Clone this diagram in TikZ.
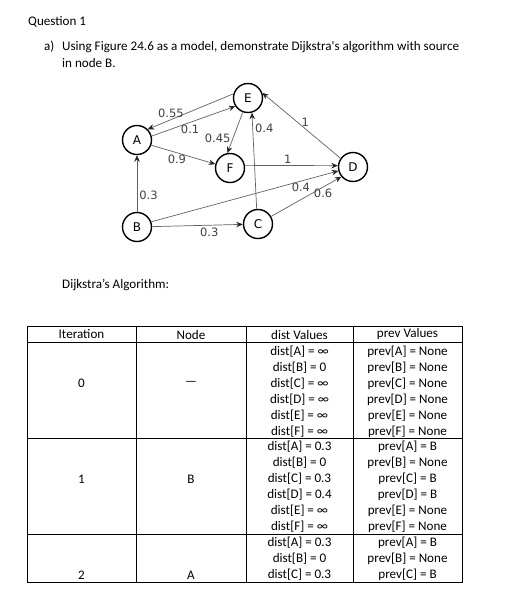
\documentclass[tikz,border=0pt]{standalone}
\usepackage{fontspec}
\setmainfont{Carlito}
\newfontfamily\graphfont{DejaVu Sans}
\usetikzlibrary{arrows.meta}

\begin{document}
\begin{tikzpicture}[
  x=1pt, y=-1pt,
  vertex/.style={
    circle,
    draw=black,
    line width=1.4pt,
    minimum size=29pt,
    inner sep=0pt,
    font=\graphfont\fontsize{12}{12}\selectfont
  },
  edge/.style={draw=black!62,line width=0.7pt,-{Stealth[length=6.5pt,width=5.5pt,black!85]}},
  weight/.style={font=\graphfont\fontsize{11.5}{11.5}\selectfont,text=black!75,inner sep=2pt},
  txt/.style={font=\fontsize{13.1}{15}\selectfont,inner sep=0pt},
  grid/.style={draw=black,line width=0.9pt}
]
  \useasboundingbox (0,0) rectangle (511,611);

  \node[txt,anchor=west] (title) at (28,22) {Question 1};
  \node[txt,anchor=west] (part) at (44,47) {a)};
  \node[txt,anchor=west] (task) at (62,47) {Using Figure 24.6 as a model, demonstrate Dijkstra\textquotesingle s algorithm with source};
  \node[txt,anchor=west] (task2) at (62,63) {in node B.};

  % graph
  \node[vertex] (A) at (137,140) {A};
  \node[vertex] (E) at (248,98) {E};
  \node[vertex] (F) at (230,168) {F};
  \node[vertex] (D) at (353,167) {D};
  \node[vertex] (B) at (137,227) {B};
  \node[vertex] (C) at (258,224) {C};

  \draw[edge] (E.164) -- node[weight,pos=0.73,above] {0.55} (A.45);
  \draw[edge] (A.15) -- node[weight,pos=0.46,below] {0.1} (E.213);
  \draw[edge] (E.250) -- node[weight,pos=0.65,left] {0.45} (F.100);
  \draw[edge] (C.95) -- node[weight,pos=0.84,right] {0.4} (E.285);
  \draw[edge] (D.145) -- node[weight,pos=0.45,above] {1} (E.20);
  \draw[edge] (A.-20) -- node[weight,pos=0.4,below] {0.9} (F.165);
  \draw[edge] (F.10) -- node[weight,pos=0.46,above] {1} (D.175);
  \draw[edge] (B.20) -- node[weight,pos=0.8,below] {0.4} (D.195);
  \draw[edge] (C.30) -- node[weight,pos=0.74,below] {0.6} (D.220);
  \draw[edge] (B) -- node[weight,pos=0.3,right] {0.3} (A);
  \draw[edge] (B) -- node[weight,pos=0.63,below] {0.3} (C);

  \node[txt,anchor=west] (algo) at (62,285) {Dijkstra’s Algorithm:};

  % table
  \draw[grid] (27,326) rectangle (462,582);
  \draw[grid] (27,342) -- (462,342);
  \draw[grid] (27,438) -- (462,438);
  \draw[grid] (27,534) -- (462,534);
  \foreach \x in {136,246,353}
    \draw[grid] (\x,326) -- (\x,582);

  \node[txt] (hIter) at (81.5,334.5) {Iteration};
  \node[txt] (hNode) at (191,334.5) {Node};
  \node[txt] (hDist) at (299.5,334.5) {dist Values};
  \node[txt] (hPrev) at (407.5,334.5) {prev Values};

  \node[txt] (it0) at (81.5,383.5) {0};
  \node[txt] (nd0) at (191,383.5) {—};
  \node[txt] (it1) at (81.5,479) {1};
  \node[txt] (nd1) at (191,479) {B};
  \node[txt] (it2) at (81.5,575) {2};
  \node[txt] (nd2) at (191,575) {A};

  \foreach \v/\d [count=\i from 0] in {A/∞,B/0,C/∞,D/∞,E/∞,F/∞}
    \node[txt] (dz\v) at (299.5,{352+15.9*\i}) {dist[\v] = \d};
  \foreach \v [count=\i from 0] in {A,B,C,D,E,F}
    \node[txt] (pz\v) at (407.5,{352+15.9*\i}) {prev[\v] = None};

  \foreach \v/\d/\p [count=\i from 0] in {A/0.3/B,B/0/None,C/0.3/B,D/0.4/B,E/∞/None,F/∞/None} {
    \node[txt] (da\v) at (299.5,{447+16*\i}) {dist[\v] = \d};
    \node[txt] (pa\v) at (407.5,{447+16*\i}) {prev[\v] = \p};
  }

  \foreach \v/\d/\p [count=\i from 0] in {A/0.3/B,B/0/None,C/0.3/B} {
    \node[txt] (db\v) at (299.5,{543+16*\i}) {dist[\v] = \d};
    \node[txt] (pb\v) at (407.5,{543+16*\i}) {prev[\v] = \p};
  }
\end{tikzpicture}
\end{document}
